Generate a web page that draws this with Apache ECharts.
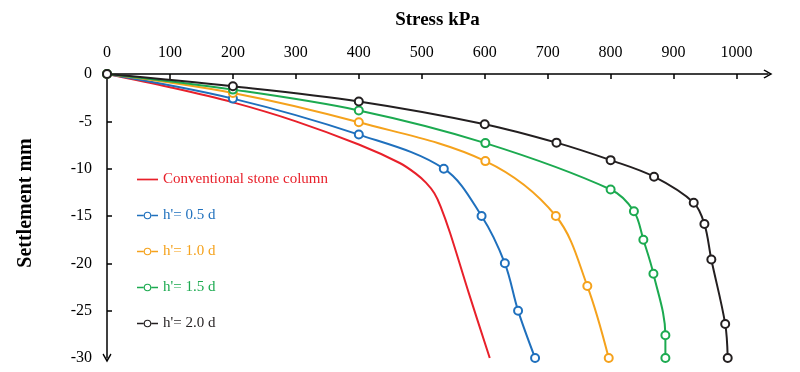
<!DOCTYPE html>
<html><head><meta charset="utf-8">
<script src="https://cdn.jsdelivr.net/npm/echarts@6/dist/echarts.min.js"></script>
<style>html,body{margin:0;padding:0;background:#fff}#c{width:800px;height:372px}</style>
</head><body><div id="c"></div>
<script>
const xTicks = [0,100,200,300,400,500,600,700,800,900,1000];
const yTicks = [0,-5,-10,-15,-20,-25,-30];
const names = ["Conventional stone column","h'= 0.5 d","h'= 1.0 d","h'= 1.5 d","h'= 2.0 d"];
const colors = ['#e8202a','#1f70bd','#f5a21c','#1caa50','#231f20'];
const stressConv = [0,100,200,300,400,465,490,507,520,530,545,575,608];
const settleConv = [0,-1.4,-3.0,-5.0,-7.45,-9.4,-10.5,-11.5,-12.6,-14.0,-16.8,-23.2,-30];
const stress05 = [0,200,400,535,595,632,653,680];
const settle05 = [0,-2.6,-6.4,-10.0,-15.0,-20.0,-25.0,-30.0];
const stress10 = [0,200,400,601,713,763,797];
const settle10 = [0,-2.0,-5.1,-9.2,-15.0,-22.4,-30.0];
const stress15 = [0,200,400,601,800,837,852,868,887,887];
const settle15 = [0,-1.65,-3.85,-7.3,-12.2,-14.5,-17.5,-21.1,-27.6,-30.0];
const stress20 = [0,200,400,600,714,800,869,932,949,960,982,986];
const settle20 = [0,-1.3,-2.9,-5.3,-7.25,-9.1,-10.85,-13.6,-15.85,-19.6,-26.4,-30.0];

const sx = [stressConv,stress05,stress10,stress15,stress20];
const sy = [settleConv,settle05,settle10,settle15,settle20];
const serif = 'Liberation Serif';
const chevron = 'path://M5,0 L10,9 L8.8,10 L5,3.2 L1.2,10 L0,9 Z';
const iconLine = 'path://M0,3.1 L22,3.1 L22,4.9 L0,4.9 Z';
const iconRing = 'path://M0,3.1 L7.2,3.1 L7.2,4.9 L0,4.9 Z M14.8,3.1 L22,3.1 L22,4.9 L14.8,4.9 Z ' +
  'M15,4 A4,4 0 1,0 7,4 A4,4 0 1,0 15,4 Z M13.8,4 A2.8,2.8 0 1,1 8.2,4 A2.8,2.8 0 1,1 13.8,4 Z';

const series = names.map((n,i)=>({
  name:n, type:'line', smooth:0.35,
  data: sx[i].map((v,k)=>[v, sy[i][k]]),
  symbol: i===0 ? 'none' : 'emptyCircle',
  symbolSize: 8,
  showSymbol: i!==0,
  lineStyle:{color:colors[i], width:2},
  itemStyle:{color:colors[i], borderColor:colors[i], borderWidth:1.5},
  z: 2+i
}));

const chart = echarts.init(document.getElementById('c'));
chart.setOption({
  animation:false,
  backgroundColor:'#fff',
  grid:{left:107, right:32, top:74, bottom:14},
  legend:{
    orient:'vertical', left:137, top:172, padding:0, itemGap:21, itemWidth:21, itemHeight:8,
    symbolKeepAspect:true,
    data: names.map((n,i)=>({name:n, icon: i===0 ? iconLine : iconRing,
      textStyle:{color:colors[i]}, itemStyle:{color:colors[i], borderWidth:0}})),
    textStyle:{fontFamily:serif, fontSize:15}
  },
  xAxis:{
    type:'value', position:'top', min:0, max:1050,
    name:'Stress kPa', nameLocation:'middle', nameGap:44,
    nameTextStyle:{fontFamily:serif, fontWeight:'bold', fontSize:19, color:'#000'},
    axisLine:{show:true, onZero:false, lineStyle:{color:'#000', width:1.5}, symbol:['none',chevron], symbolSize:[9,10]},
    axisTick:{show:true, inside:true, length:5, customValues:xTicks, lineStyle:{color:'#000', width:1.5}},
    axisLabel:{customValues:xTicks, margin:13, fontFamily:serif, fontSize:16, color:'#000', formatter:v=>String(v)},
    splitLine:{show:false}
  },
  yAxis:{
    type:'value', min:-30, max:0, interval:5,
    name:'Settlement mm', nameLocation:'middle', nameGap:71, nameRotate:90,
    nameTextStyle:{fontFamily:serif, fontWeight:'bold', fontSize:20, color:'#000', padding:[0,0,0,26]},
    axisLine:{show:true, onZero:false, lineStyle:{color:'#000', width:1.5}, symbol:[chevron,'none'], symbolSize:[9,10]},
    axisTick:{show:true, inside:true, length:5, customValues:[-5,-10,-15,-20,-25], lineStyle:{color:'#000', width:1.5}},
    axisLabel:{customValues:yTicks, margin:15, fontFamily:serif, fontSize:16, color:'#000', formatter:v=>String(v)},
    splitLine:{show:false}
  },
  series
});
</script></body></html>
